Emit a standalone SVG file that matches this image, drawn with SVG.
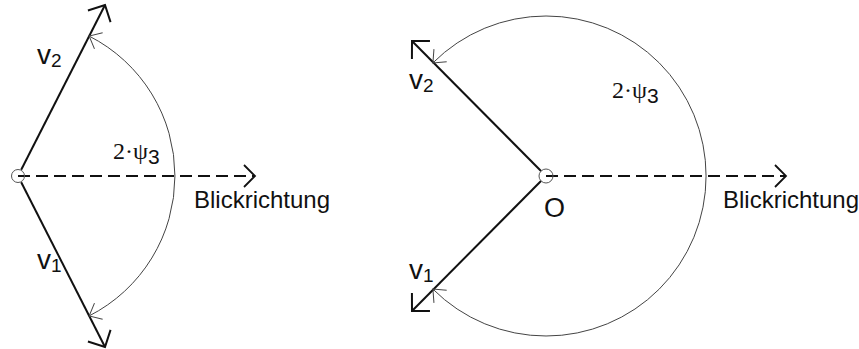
<svg xmlns="http://www.w3.org/2000/svg" width="859" height="349" viewBox="0 0 859 349">
<style>
.vec{stroke:#111;stroke-width:2;fill:none}
.arc{stroke:#444;stroke-width:1;fill:none}
.dash{stroke:#111;stroke-width:1.8;fill:none;stroke-dasharray:12 6}
.org{stroke:#555;stroke-width:1;fill:none}
text{fill:#111}
.sans{font-family:"Liberation Sans",Arial,sans-serif}
.serif{font-family:"Liberation Serif","Times New Roman",serif}
</style>
<defs>
<marker id="big" markerUnits="userSpaceOnUse" viewBox="-16 -16 20 32" markerWidth="20" markerHeight="32" refX="0" refY="0" orient="auto" overflow="visible">
<path d="M-12.7,-12.7 L0,0 L-12.7,12.7" fill="none" stroke="#111" stroke-width="2" stroke-dasharray="none"/>
</marker>
<marker id="dhead" markerUnits="userSpaceOnUse" viewBox="-16 -16 20 32" markerWidth="20" markerHeight="32" refX="0" refY="0" orient="auto" overflow="visible">
<path d="M-11,-11 L0,0 L-11,11" fill="none" stroke="#111" stroke-width="1.8" stroke-dasharray="none"/>
</marker>
<marker id="small" markerUnits="userSpaceOnUse" viewBox="-16 -16 20 32" markerWidth="20" markerHeight="32" refX="0" refY="0" orient="auto-start-reverse" overflow="visible">
<path d="M-10.5,-9 L0,0 L-10.5,9" fill="none" stroke="#444" stroke-width="1" stroke-dasharray="none"/>
</marker>
</defs>

<g id="connectors">
<line class="vec" x1="21.2" y1="169.8" x2="105" y2="5" marker-end="url(#big)"/>
<line class="vec" x1="21.2" y1="182.2" x2="105" y2="347" marker-end="url(#big)"/>
<line class="dash" x1="18" y1="176" x2="255" y2="176" marker-end="url(#dhead)"/>
<path class="arc" d="M89.2,315.9 A157,157 0 0 0 89.2,36.1" marker-start="url(#small)" marker-end="url(#small)"/>
<line class="vec" x1="541" y1="171" x2="412" y2="41" marker-end="url(#big)"/>
<line class="vec" x1="541" y1="181" x2="412" y2="311" marker-end="url(#big)"/>
<line class="dash" x1="546" y1="176" x2="786" y2="176" marker-end="url(#dhead)"/>
<path class="arc" d="M432.9,289.1 A160,160 0 1 0 432.9,62.9" marker-start="url(#small)" marker-end="url(#small)"/>
</g>

<g id="origin-left"><circle class="org" cx="18" cy="176" r="6.5"/></g>
<g id="origin-right"><circle class="org" cx="546" cy="176" r="7"/>
<text class="sans" x="544" y="217" font-size="27">O</text></g>

<g id="labels-left">
<text class="sans" x="37" y="64" font-size="28">v<tspan font-size="19" dy="3">2</tspan></text>
<text class="sans" x="37" y="269" font-size="28">v<tspan font-size="19" dy="3">1</tspan></text>
<text x="113" y="159"><tspan class="serif" font-size="24">2·ψ</tspan><tspan class="sans" font-size="21" dy="5">3</tspan></text>
<text class="sans" x="194" y="208" font-size="24">Blickrichtung</text>
</g>

<g id="labels-right">
<text class="sans" x="409" y="89" font-size="28">v<tspan font-size="19" dy="3">2</tspan></text>
<text class="sans" x="409" y="279" font-size="28">v<tspan font-size="19" dy="3">1</tspan></text>
<text x="612" y="98"><tspan class="serif" font-size="24">2·ψ</tspan><tspan class="sans" font-size="21" dy="5">3</tspan></text>
<text class="sans" x="723" y="208" font-size="24">Blickrichtung</text>
</g>
</svg>
